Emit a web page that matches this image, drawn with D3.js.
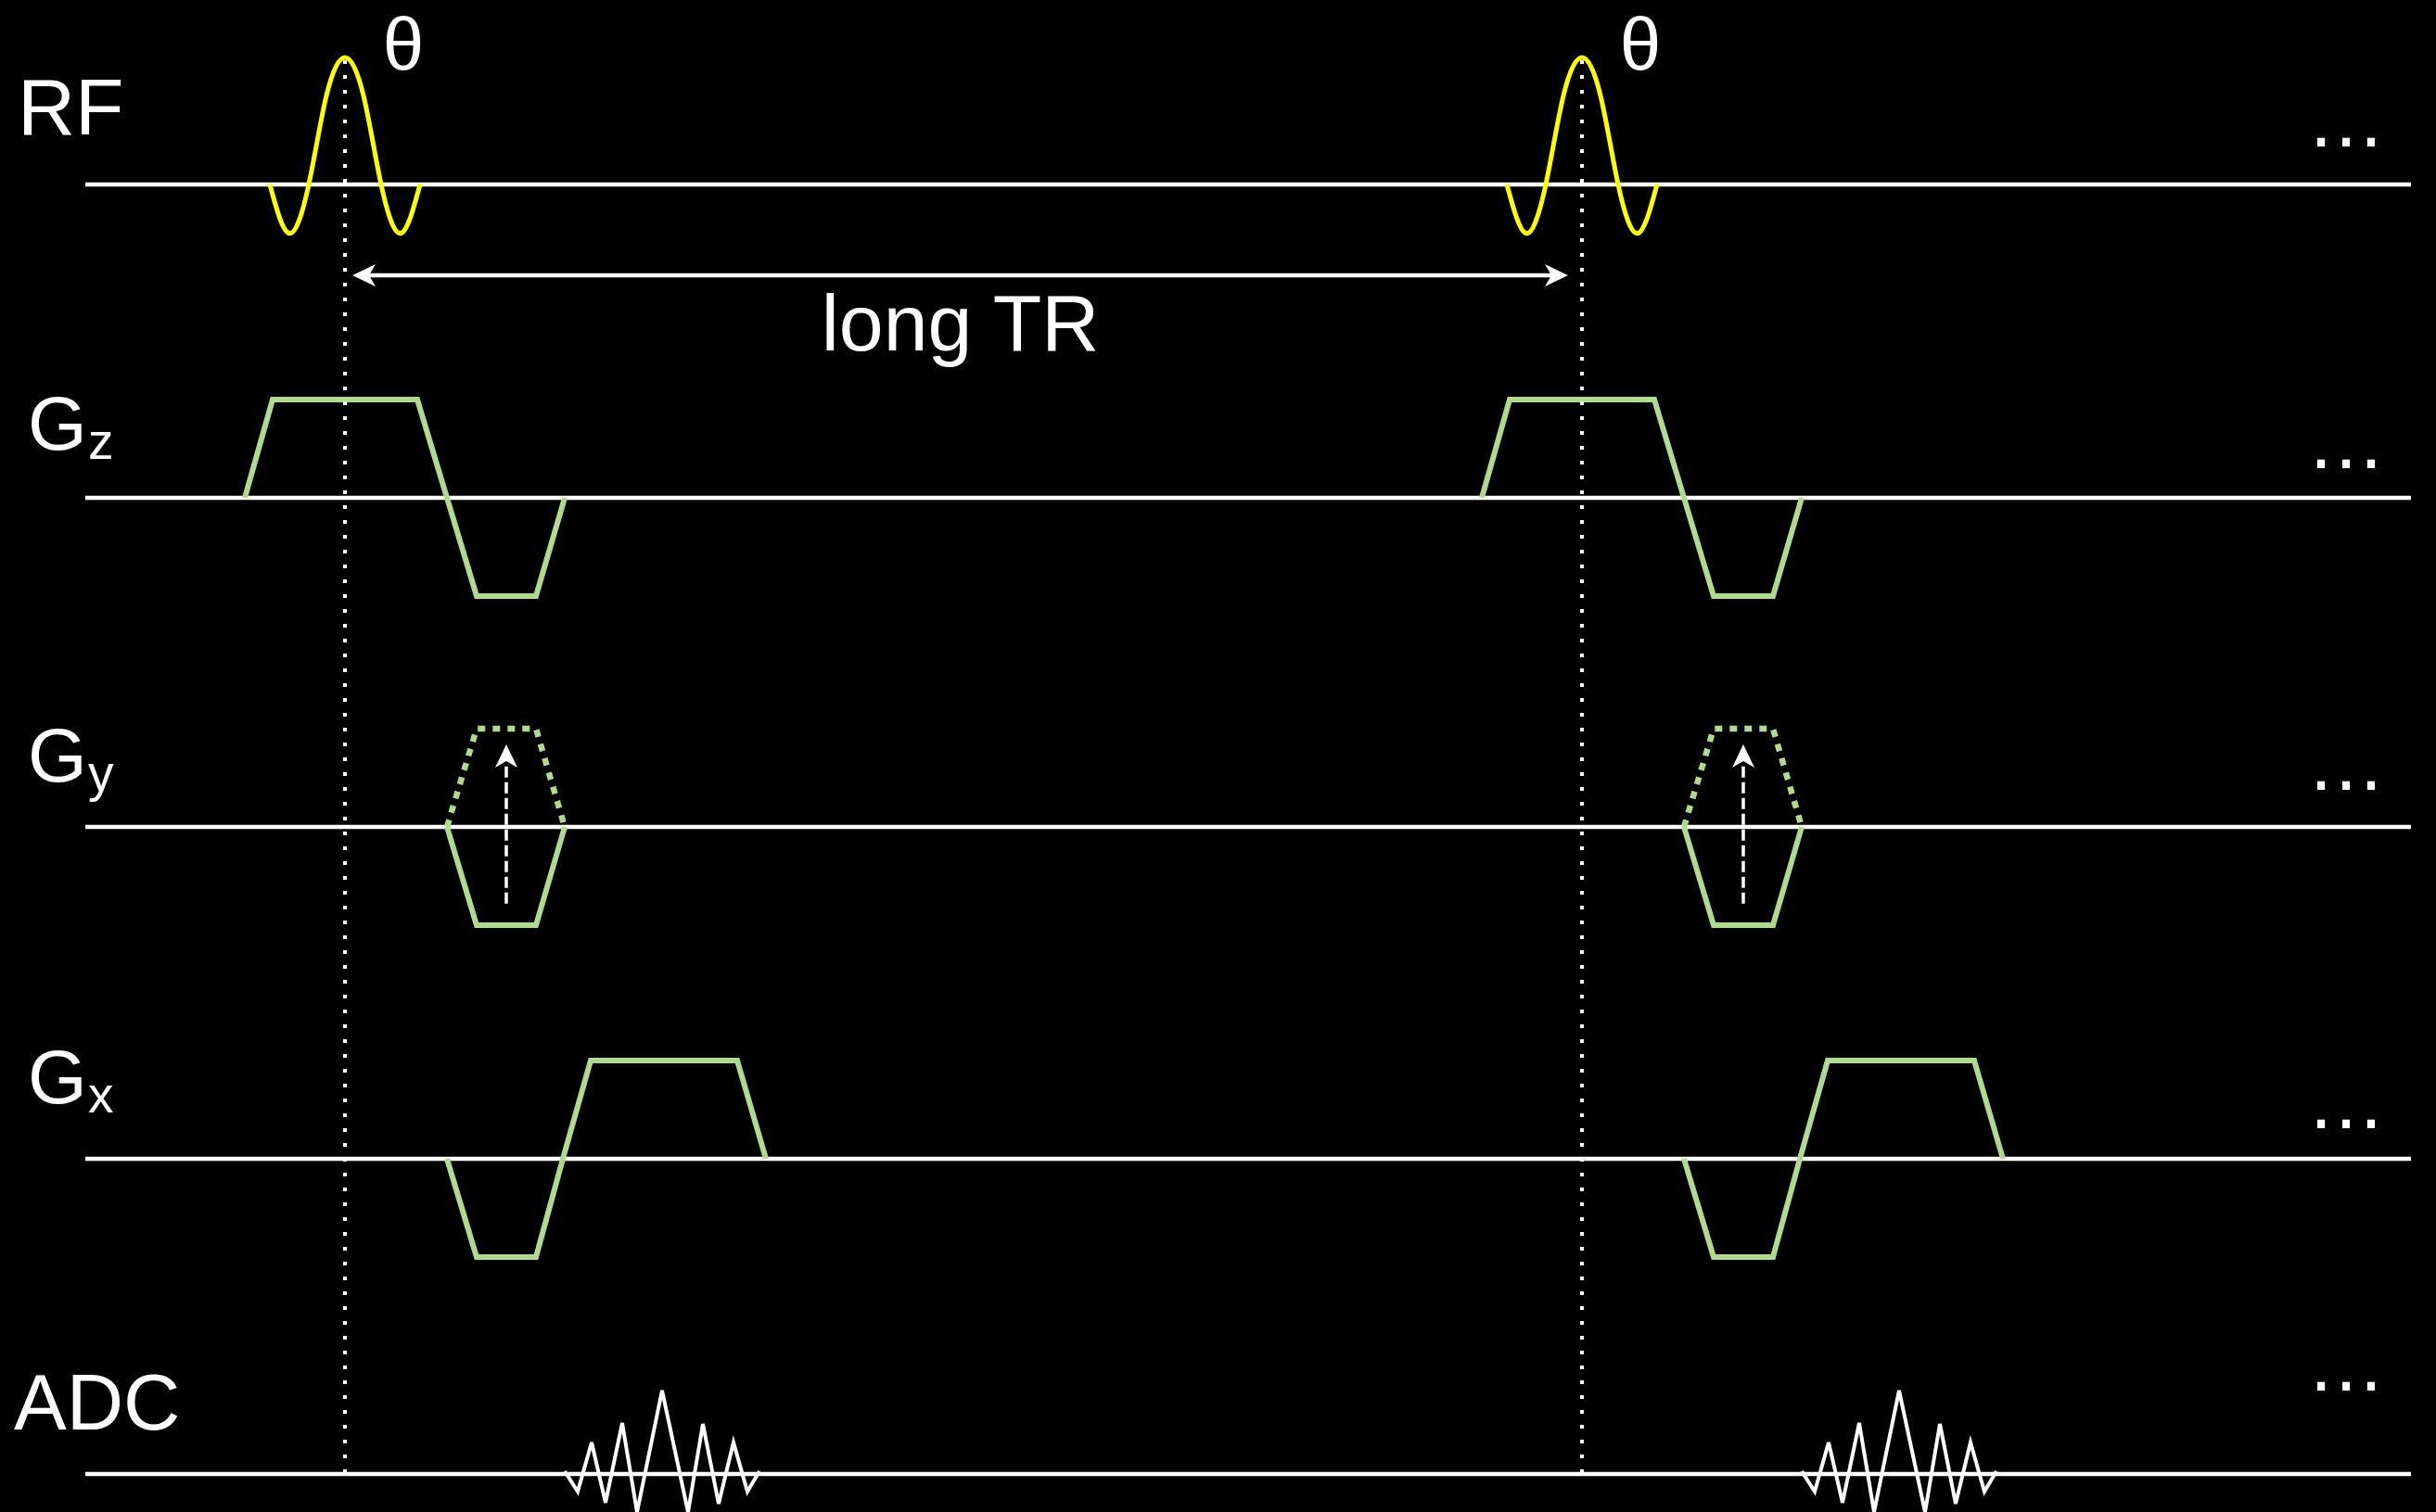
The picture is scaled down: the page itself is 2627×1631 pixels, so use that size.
<!DOCTYPE html>
<html>
<head>
<meta charset="utf-8">
<script src="https://cdn.jsdelivr.net/npm/d3@7"></script>
<style>
  html, body { margin: 0; padding: 0; background: #000; }
  svg { display: block; }
  text { font-family: "Liberation Sans", Arial, sans-serif; fill: #fff; }
</style>
</head>
<body>
<svg id="chart" width="2627" height="1631"></svg>
<script>
// ---------------- DATA (time units relative to first RF centre) ----------------
const rows = ["RF", "Gz", "Gy", "Gx", "ADC"];
const rowSubs = ["", "z", "y", "x", ""];
const rfCenters = [0, 1334];               // RF pulse centres (one TR apart)
const flipLabel = "θ";
const trLabel = "long TR";
const trArrowTimes = [8, 1319];            // arrow tips
// RF sinc-like pulse (time offset, normalised amplitude)
const rfT = [-81, -60, -39, -20, 0, 20, 39, 60, 81];
const rfA = [0, -0.385, 0, 0.7, 1, 0.7, 0, -0.385, 0];
// slice-select gradient
const gzT = [-108, -78, 78, 110, 142, 206, 237];
const gzA = [0, 1, 1, 0, -1, -1, 0];
// phase-encode gradient (solid lowest step, dotted highest step)
const gyT = [110, 142, 206, 237];
const gyLowA = [0, -1, -1, 0];
const gyHighA = [0, 1, 1, 0];
const gyStepT = 174;
const gyStepA = [-0.78, 0.84];
// readout gradient
const gxT = [110, 142, 206, 235, 265, 423, 454];
const gxA = [0, -1, -1, 0, 1, 1, 0];
// ADC echo signal
const adcT = [237, 251, 266, 281, 299, 315, 342, 370, 386, 403, 419, 434, 447];
const adcA = [0.033, -0.211, 0.378, -0.344, 0.611, -0.456, 1, -0.456, 0.6, -0.356, 0.378, -0.211, 0.033];
const ellipsis = "…";

// ---------------- LAYOUT ----------------
const svg = d3.select("#chart");
const W = 2627, H = 1631;
svg.append("rect").attr("width", W).attr("height", H).attr("fill", "#000");

const x = d3.scaleLinear().domain([-280, 2228]).range([92, 2600]);
const rowY = d3.scaleOrdinal().domain(rows).range([199, 537, 892, 1250, 1590]);
const ampPx = { RF: 137, Gz: 106, Gy: 106, Gx: 106, ADC: 90 };
function yScale(row) {
  const b = rowY(row), h = ampPx[row];
  return d3.scaleLinear().domain([-1, 1]).range([b + h, b - h]);
}

const GREEN = "#AEDB8F", YELLOW = "#FFFF00", WHITE = "#FFFFFF";
const lineGen = (row, t0, curve) => d3.line()
  .x(d => x(t0 + d[0])).y(d => yScale(row)(d[1])).curve(curve || d3.curveLinear);
const zip = (a, b) => a.map((v, i) => [v, b[i]]);

// baselines
svg.append("g").selectAll("line").data(rows).join("line")
  .attr("x1", x.range()[0]).attr("x2", x.range()[1])
  .attr("y1", d => rowY(d)).attr("y2", d => rowY(d))
  .attr("stroke", WHITE).attr("stroke-width", 4.5);

// row labels
const labelBase = { RF: 145, Gz: 485, Gy: 843, Gx: 1190, ADC: 1542 };
rows.forEach((r, i) => {
  if (rowSubs[i] === "") {
    svg.append("text").attr("x", r === "RF" ? 19 : 15).attr("y", labelBase[r])
      .attr("font-size", r === "RF" ? 86 : 85).text(r);
  } else {
    svg.append("text").attr("x", 30).attr("y", labelBase[r])
      .attr("font-size", 82).text(r[0]);
    svg.append("text").attr("x", 95).attr("y", labelBase[r] + 10)
      .attr("font-size", 55).text(rowSubs[i]);
  }
});

// ellipses at right
const ellOffset = { RF: -41, Gz: -32, Gy: -40, Gx: -33, ADC: -90 };
svg.append("g").selectAll("text").data(rows).join("text")
  .attr("x", 2530).attr("y", d => rowY(d) + ellOffset[d])
  .attr("text-anchor", "middle").attr("font-size", 85).text(ellipsis);

rfCenters.forEach(t0 => {
  // RF pulse
  svg.append("path").attr("d", lineGen("RF", t0, d3.curveNatural)(zip(rfT, rfA)))
    .attr("fill", "none").attr("stroke", YELLOW).attr("stroke-width", 5);
  // flip angle
  svg.append("text").attr("x", x(t0) + 63).attr("y", 75)
    .attr("text-anchor", "middle").attr("font-size", 80).text(flipLabel);
  // Gz
  svg.append("path").attr("d", lineGen("Gz", t0)(zip(gzT, gzA)))
    .attr("fill", "none").attr("stroke", GREEN).attr("stroke-width", 6);
  // Gy
  svg.append("path").attr("d", lineGen("Gy", t0)(zip(gyT, gyLowA)))
    .attr("fill", "none").attr("stroke", GREEN).attr("stroke-width", 6);
  svg.append("path").attr("d", lineGen("Gy", t0)(zip(gyT, gyHighA)))
    .attr("fill", "none").attr("stroke", GREEN).attr("stroke-width", 6.5)
    .attr("stroke-dasharray", "8,8");
  const gyS = yScale("Gy");
  const ax = x(t0 + gyStepT), yb = gyS(gyStepA[0]), yt = gyS(gyStepA[1]);
  svg.append("line").attr("x1", ax).attr("x2", ax).attr("y1", yb).attr("y2", yt + 20)
    .attr("stroke", WHITE).attr("stroke-width", 3.5).attr("stroke-dasharray", "12,5");
  svg.append("path")
    .attr("d", `M${ax},${yt} L${ax - 12},${yt + 25} L${ax},${yt + 18} L${ax + 12},${yt + 25} Z`)
    .attr("fill", WHITE);
  // Gx
  svg.append("path").attr("d", lineGen("Gx", t0)(zip(gxT, gxA)))
    .attr("fill", "none").attr("stroke", GREEN).attr("stroke-width", 6);
  // ADC
  svg.append("path").attr("d", lineGen("ADC", t0)(zip(adcT, adcA)))
    .attr("fill", "none").attr("stroke", WHITE).attr("stroke-width", 4)
    .attr("stroke-linejoin", "miter");
  // dotted timing line
  svg.append("line").attr("x1", x(t0)).attr("x2", x(t0))
    .attr("y1", yScale("RF")(1) + 3).attr("y2", rowY("ADC"))
    .attr("stroke", WHITE).attr("stroke-width", 4).attr("stroke-dasharray", "4,12");
});

// TR arrow
const ay = 297;
const xl = x(trArrowTimes[0]), xr = x(trArrowTimes[1]);
svg.append("line").attr("x1", xl + 15).attr("x2", xr - 15).attr("y1", ay).attr("y2", ay)
  .attr("stroke", WHITE).attr("stroke-width", 4.5);
svg.append("path")
  .attr("d", `M${xl},${ay} L${xl + 25},${ay - 12} L${xl + 18},${ay} L${xl + 25},${ay + 12} Z`)
  .attr("fill", WHITE);
svg.append("path")
  .attr("d", `M${xr},${ay} L${xr - 25},${ay - 12} L${xr - 18},${ay} L${xr - 25},${ay + 12} Z`)
  .attr("fill", WHITE);
svg.append("text").attr("x", (xl + xr) / 2).attr("y", 378)
  .attr("text-anchor", "middle").attr("font-size", 86).text(trLabel);
</script>
</body>
</html>
